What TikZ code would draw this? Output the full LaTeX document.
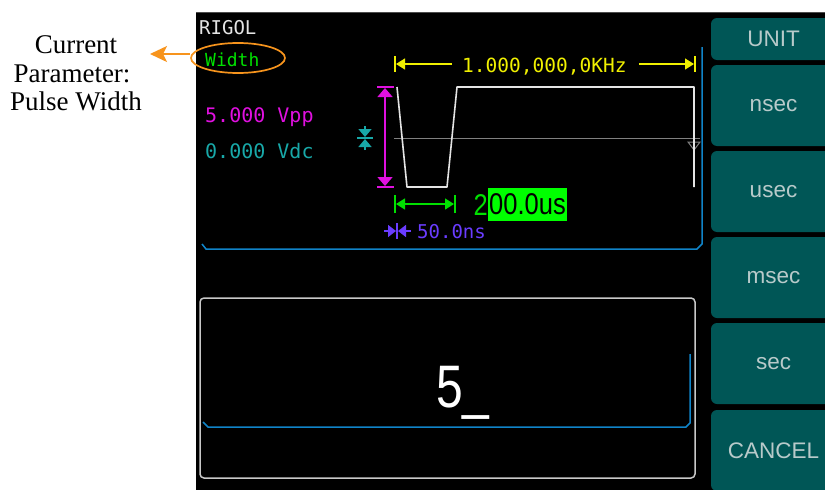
\documentclass[tikz,border=0pt]{standalone}
\usepackage{fontspec}
\setmainfont{Liberation Serif}
\newfontfamily\monof{DejaVu Sans Mono}
\newfontfamily\sansf{Liberation Sans}
\usetikzlibrary{arrows.meta,shapes.geometric}
\definecolor{orng}{HTML}{F7941D}
\definecolor{scrwhite}{HTML}{E4E4E4}
\definecolor{scrgreen}{HTML}{00E000}
\definecolor{hlgreen}{HTML}{00FF00}
\definecolor{scryel}{HTML}{F0F000}
\definecolor{scrmag}{HTML}{E010E0}
\definecolor{scrteal}{HTML}{18A8A8}
\definecolor{scrvio}{HTML}{6A3CFF}
\definecolor{scrblue}{HTML}{1084C8}
\definecolor{btnfill}{HTML}{005656}
\definecolor{btntext}{HTML}{B8CACA}
\definecolor{boxgray}{HTML}{C8C8C8}
\begin{document}
\begin{tikzpicture}[x=1pt,y=-1pt,
  mono/.style={font=\monof\fontsize{19}{19}\selectfont, inner sep=0pt, anchor=base west},
  lbl/.style={font=\fontsize{27}{28}\selectfont, inner sep=0pt, anchor=base, text=black},
  btn/.style={fill=btnfill, rounded corners=6pt, minimum width=125pt, inner sep=0pt,
    text=btntext, font=\sansf\fontsize{22.5}{22.5}\selectfont},
  mk/.style={line width=1.5pt},
  big/.style={font=\sansf\fontsize{30}{30}\selectfont, inner sep=0pt}]
\useasboundingbox (0,0) rectangle (825,490);
% screen
\fill[black] (196,12) rectangle (830,495);
\draw[black!70, line width=1.5pt] (196,12.5) -- (825,12.5);
% buttons
\node[btn, minimum height=42pt] (bunit) at (773.5,39) {UNIT};
\node[btn, minimum height=81pt] (bnsec) at (773.5,105.5) {nsec};
\node[btn, minimum height=81pt] (busec) at (773.5,191.5) {usec};
\node[btn, minimum height=81pt] (bmsec) at (773.5,277.5) {msec};
\node[btn, minimum height=81pt] (bsec) at (773.5,363.5) {sec};
\node[btn, minimum height=81pt] (bcancel) at (773.5,450.5) {CANCEL};
% label and pointer
\node[lbl] (cp1) at (76,53) {Current};
\node[lbl] (cp2) at (72,82) {Parameter:};
\node[lbl] (cp3) at (76,110) {Pulse Width};
\node[mono, text=scrwhite] (rigol) at (199,34) {RIGOL};
\node[mono, text=scrgreen, font=\monof\fontsize{18}{18}\selectfont] (width) at (205,66) {Width};
\node[ellipse, draw=orng, line width=1.7pt, minimum width=94pt, minimum height=30pt] (wd) at (238,58) {};
\coordinate (tip) at (150,54);
\draw[orng, line width=1.6pt, -{Stealth[length=17pt,width=16pt,inset=4pt]}] (wd.west |- tip) -- (tip);
% upper panel
\draw[scrblue, line width=1.5pt] (202,244) -- (206,249) -- (697,249) -- (702,244) -- (702,47);
\node[mono, text=scryel, font=\monof\fontsize{19.5}{19.5}\selectfont] (freq) at (462,72) {1.000,000,0KHz};
\coordinate (fl) at (395,64);
\coordinate (fr) at (695,64);
\draw[scryel, mk] (395,56) -- (395,72) (695,56) -- (695,72);
\draw[scryel, line width=1.3pt, -{Triangle[length=9pt,width=11pt]}] ([xshift=-10pt]freq.west |- fl) -- ([xshift=1pt]fl);
\draw[scryel, line width=1.3pt, -{Triangle[length=9pt,width=11pt]}] ([xshift=12pt]freq.east |- fr) -- ([xshift=-1pt]fr);
\node[mono, text=scrmag, font=\monof\fontsize{20}{20}\selectfont] (vpp) at (205,122) {5.000 Vpp};
\node[mono, text=scrteal, font=\monof\fontsize{20}{20}\selectfont] (vdc) at (205,158) {0.000 Vdc};
% center line and waveform
\draw[black!50, line width=1pt] (394,138) -- (700,138);
\draw[black!50, line width=1pt] (688,142) -- (700,142) -- (694,150) -- cycle;
\draw[scrwhite, line width=1.6pt, line join=round] (397,87) -- (407,187) -- (447,187) -- (457,87) -- (694,87) -- (694,187);
% amplitude marker
\draw[scrmag, mk] (377,87) -- (394,87) (377,187) -- (394,187);
\draw[scrmag, mk, {Triangle[length=9pt,width=15pt]}-{Triangle[length=9pt,width=15pt]}] (385,88) -- (385,186);
% offset marker
\draw[scrteal, mk] (357,138) -- (373,138);
\draw[scrteal, mk, -{Triangle[length=8pt,width=13pt]}] (365,126) -- (365,137);
\draw[scrteal, mk, -{Triangle[length=8pt,width=13pt]}] (365,150) -- (365,139);
% width marker
\draw[scrgreen, mk] (395,195) -- (395,213) (455,195) -- (455,213);
\draw[scrgreen, mk, {Triangle[length=9pt,width=11pt]}-{Triangle[length=9pt,width=11pt]}] (396,204) -- (454,204);
\node[big, fill=hlgreen, text=black, anchor=west, minimum height=33pt, inner xsep=1pt] (us) at (488,204.5) {\scalebox{0.85}[1]{00.0us}};
\node[big, text=scrgreen, anchor=base east] (two) at (us.west |- 0,215) {\scalebox{0.85}[1]{2}};
% edge marker
\draw[scrvio, mk] (397,223) -- (397,239);
\draw[scrvio, mk, -{Triangle[length=8pt,width=12pt]}] (384,231) -- (396,231);
\draw[scrvio, mk, -{Triangle[length=8pt,width=12pt]}] (411,231) -- (398,231);
\node[mono, text=scrvio] (ns) at (417,238) {50.0ns};
% lower box
\draw[boxgray, line width=1.5pt, rounded corners=4pt] (200,298) rectangle (695,478);
\draw[scrblue, line width=1.5pt] (203,422) -- (208,427) -- (686,427) -- (690,423) -- (690,354);
\node[font=\sansf\fontsize{60}{60}\selectfont, text=white, anchor=base west, inner sep=0pt] (val) at (436,407) {\scalebox{0.8}[1]{5\_}};
\end{tikzpicture}
\end{document}
